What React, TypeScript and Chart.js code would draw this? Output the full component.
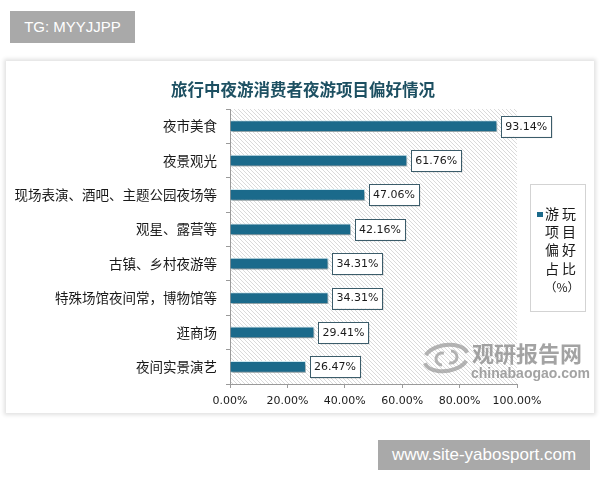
import React, { useEffect, useRef } from "react";
import { Chart, registerables } from "chart.js";

Chart.register(...registerables);

const title = "旅行中夜游消费者夜游项目偏好情况";
const categories = [
  "夜市美食",
  "夜景观光",
  "现场表演、酒吧、主题公园夜场等",
  "观星、露营等",
  "古镇、乡村夜游等",
  "特殊场馆夜间常，博物馆等",
  "逛商场",
  "夜间实景演艺",
];
const values = [93.14, 61.76, 47.06, 42.16, 34.31, 34.31, 29.41, 26.47];
const xTicks = [0, 20, 40, 60, 80, 100];
const seriesName = "游玩项目偏好占比（%）";
const legendLines = ["游玩", "项目", "偏好", "占比", "（%）"];
const headerText = "TG: MYYJJPP";
const footerText = "www.site-yabosport.com";
const wmCn = "观研报告网";
const wmEn = "chinabaogao.com";

const BAR = "#1b6a8b";
const CJK = '"Noto Sans CJK SC", sans-serif';

const hatchPlugin = {
  id: "hatch",
  beforeDraw(chart: any) {
    const { ctx, chartArea } = chart;
    const { left, top, right, bottom } = chartArea;
    const t = document.createElement("canvas");
    t.width = 4;
    t.height = 4;
    const pc = t.getContext("2d")!;
    pc.fillStyle = "#ffffff";
    pc.fillRect(0, 0, 4, 4);
    pc.strokeStyle = "#dadada";
    pc.lineWidth = 1;
    pc.beginPath();
    pc.moveTo(-1, -1);
    pc.lineTo(5, 5);
    pc.moveTo(-1, 3);
    pc.lineTo(1, 5);
    pc.moveTo(3, -1);
    pc.lineTo(5, 1);
    pc.stroke();
    const pat = ctx.createPattern(t, "repeat");
    ctx.save();
    ctx.fillStyle = pat;
    ctx.fillRect(left, top, right - left, bottom - top);
    ctx.restore();
  },
  beforeDatasetsDraw(chart: any) {
    const ctx = chart.ctx;
    ctx.save();
    ctx.shadowColor = "rgba(0,0,0,0.35)";
    ctx.shadowBlur = 2;
    ctx.shadowOffsetX = 1;
    ctx.shadowOffsetY = 2;
  },
  afterDatasetsDraw(chart: any) {
    const ctx = chart.ctx;
    ctx.restore();
    const meta = chart.getDatasetMeta(0);
    ctx.save();
    ctx.font = "11px 'DejaVu Sans'";
    ctx.textBaseline = "middle";
    ctx.textAlign = "left";
    meta.data.forEach((el: any, i: number) => {
      const txt = values[i].toFixed(2) + "%";
      const w = ctx.measureText(txt).width + 8;
      const h = 21;
      const x = el.x + 4;
      const y = el.y - h / 2;
      ctx.fillStyle = "rgba(0,0,0,0.12)";
      ctx.fillRect(x + 1.5, y + 1.5, w, h);
      ctx.fillStyle = "#ffffff";
      ctx.fillRect(x, y, w, h);
      ctx.strokeStyle = "#3b5c6a";
      ctx.lineWidth = 1;
      ctx.strokeRect(Math.round(x) + 0.5, Math.round(y) + 0.5, Math.round(w), h);
      ctx.fillStyle = "#1a1a1a";
      ctx.fillText(txt, x + 4, el.y + 0.5);
    });
    ctx.restore();
  },
  afterDraw(chart: any) {
    const ctx = chart.ctx;
    ctx.save();
    ctx.font = `bold 16.5px ${CJK}`;
    ctx.fillStyle = "#1d5062";
    ctx.textAlign = "center";
    ctx.textBaseline = "middle";
    ctx.fillText(title, 297, 28.5);

    ctx.strokeStyle = "#d3d3d3";
    ctx.lineWidth = 1;
    ctx.strokeRect(524.5, 123.5, 55, 127);
    ctx.fillStyle = BAR;
    ctx.fillRect(531, 151, 6, 5);
    ctx.fillStyle = "#1a1a1a";
    ctx.font = `14px ${CJK}`;
    ctx.textAlign = "left";
    const ys = [153, 171, 189, 208, 226];
    legendLines.forEach((line, i) => {
      if (i === legendLines.length - 1) {
        ctx.textAlign = "center";
        ctx.font = `12px ${CJK}`;
        ctx.fillText(line, 556, ys[i]);
      } else {
        const chars = Array.from(line);
        chars.forEach((c, j) => ctx.fillText(c, 539 + j * 17, ys[i]));
      }
    });

    ctx.strokeStyle = "rgba(150,150,150,0.7)";
    ctx.lineWidth = 4;
    ctx.beginPath();
    ctx.ellipse(440, 297, 22, 13, -0.15, 0.15 * Math.PI, 0.95 * Math.PI);
    ctx.stroke();
    ctx.beginPath();
    ctx.ellipse(440, 297, 22, 13, -0.15, 1.15 * Math.PI, 1.95 * Math.PI);
    ctx.stroke();
    ctx.lineWidth = 3;
    ctx.beginPath();
    ctx.arc(436, 298, 6, 0.5 * Math.PI, 1.6 * Math.PI);
    ctx.stroke();
    ctx.beginPath();
    ctx.arc(445, 296, 6, 1.5 * Math.PI, 2.6 * Math.PI);
    ctx.stroke();
    ctx.fillStyle = "rgba(140,140,140,0.8)";
    ctx.textAlign = "left";
    ctx.font = `bold 22px ${CJK}`;
    ctx.fillText(wmCn, 466, 292.5);
    ctx.font = "bold 14px 'Liberation Sans'";
    ctx.fillText(wmEn, 465, 313);
    ctx.restore();
  },
};

export default function App() {
  const ref = useRef<HTMLCanvasElement>(null);
  useEffect(() => {
    if (!ref.current) return;
    const chart = new Chart(ref.current, {
      type: "bar",
      data: {
        labels: categories,
        datasets: [
          {
            label: seriesName,
            data: values,
            backgroundColor: BAR,
            borderColor: "#cfe8f0",
            borderWidth: 1,
            barPercentage: 0.34,
            categoryPercentage: 1,
          },
        ],
      },
      options: {
        indexAxis: "y",
        animation: false,
        responsive: false,
        devicePixelRatio: 1,
        layout: { padding: { top: 48, right: 77, bottom: 0, left: 0 } },
        plugins: {
          legend: { display: false },
          title: { display: false },
          tooltip: { enabled: false },
        },
        scales: {
          x: {
            min: 0,
            max: 100,
            afterBuildTicks(s: any) {
              s.ticks = xTicks.map((v) => ({ value: v }));
            },
            grid: { drawOnChartArea: false, drawTicks: true, tickLength: 4, color: "#9a9a9a" },
            border: { display: true, color: "#9a9a9a" },
            ticks: {
              callback: (v: any) => Number(v).toFixed(2) + "%",
              font: { family: "'DejaVu Sans'", size: 11 },
              color: "#1a1a1a",
              padding: 7,
              maxRotation: 0,
              autoSkip: false,
            },
            afterFit(s: any) {
              s.height = 29;
            },
          },
          y: {
            grid: {
              display: true,
              drawOnChartArea: false,
              drawTicks: true,
              tickLength: 4,
              color: "#9a9a9a",
              offset: true,
            },
            border: { display: true, color: "#9a9a9a" },
            ticks: {
              font: { family: CJK, size: 13.5 },
              color: "#1a1a1a",
              padding: 9,
              autoSkip: false,
            },
            afterFit(s: any) {
              s.width = 224;
            },
          },
        },
      } as any,
      plugins: [hatchPlugin],
    });
    return () => chart.destroy();
  }, []);

  return (
    <div style={{ position: "absolute", left: 0, top: 0, width: 600, height: 480, background: "#ffffff", overflow: "hidden" }}>
      <div
        style={{
          position: "absolute",
          left: 10,
          top: 11,
          width: 125,
          height: 32,
          background: "#a9a9a9",
          color: "#ffffff",
          fontFamily: "'Liberation Sans', sans-serif",
          fontSize: 15,
          lineHeight: "32px",
          textAlign: "center",
        }}
      >
        {headerText}
      </div>
      <div
        style={{
          position: "absolute",
          left: 6,
          top: 61,
          width: 588,
          height: 352,
          background: "#ffffff",
          boxShadow: "0 0 4px 2px rgba(0,0,0,0.12)",
        }}
      >
        <canvas ref={ref} width={588} height={352} style={{ display: "block", width: 588, height: 352 }} />
      </div>
      <div
        style={{
          position: "absolute",
          left: 378,
          top: 440,
          width: 212,
          height: 30,
          background: "#a9a9a9",
          color: "#ffffff",
          fontFamily: "'Liberation Sans', sans-serif",
          fontSize: 17,
          lineHeight: "30px",
          textAlign: "center",
        }}
      >
        {footerText}
      </div>
    </div>
  );
}
